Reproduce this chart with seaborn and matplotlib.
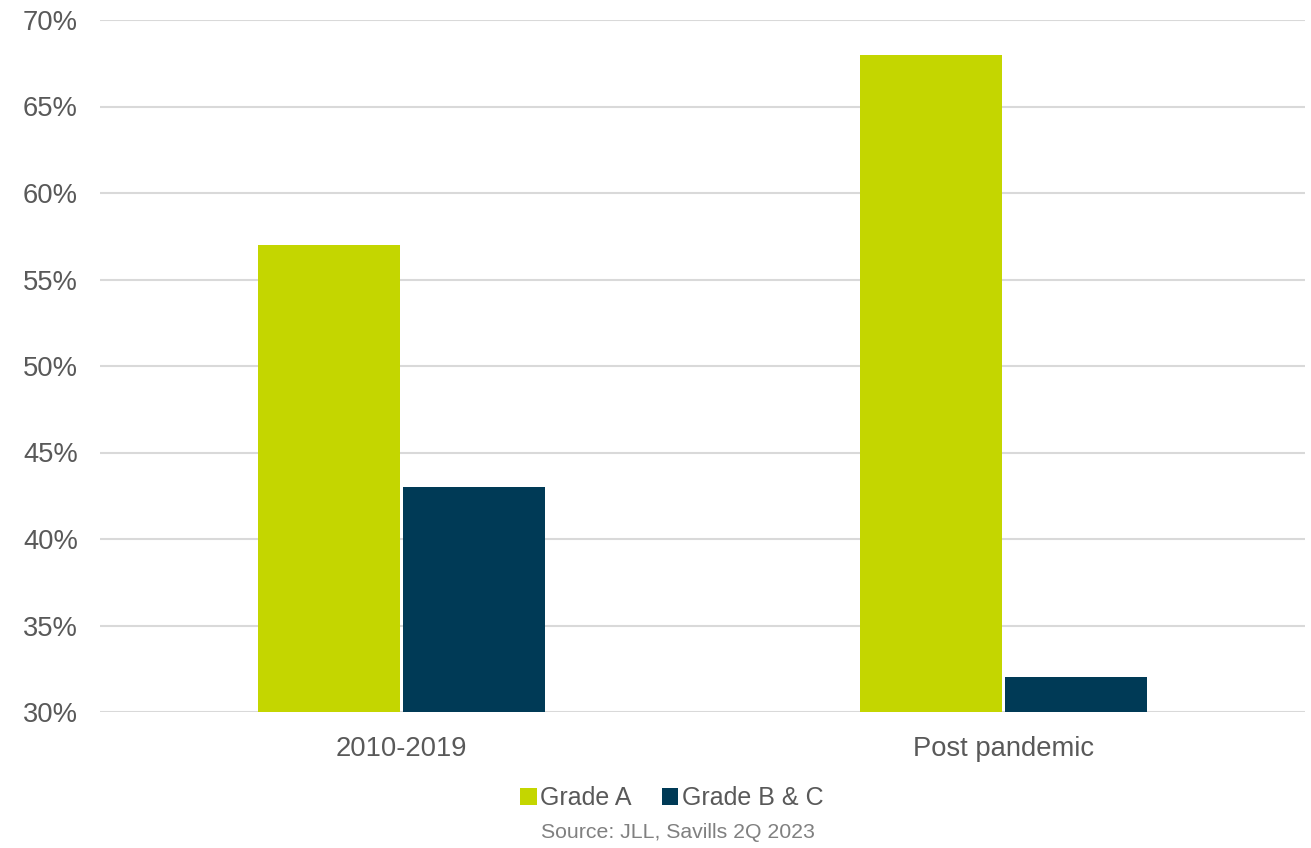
import matplotlib
matplotlib.use("Agg")
import matplotlib.pyplot as plt
import seaborn as sns
import pandas as pd
from matplotlib.ticker import FuncFormatter

categories = ["2010-2019", "Post pandemic"]
grade_a = [57, 68]
grade_bc = [43, 32]
series_names = ["Grade A", "Grade B & C"]
yticks = [30, 35, 40, 45, 50, 55, 60, 65, 70]

df = pd.DataFrame({
    "Period": categories * 2,
    "Share": grade_a + grade_bc,
    "Grade": [series_names[0]] * 2 + [series_names[1]] * 2,
})

sns.set_theme(style="white")
plt.rcParams["font.family"] = ["Liberation Sans", "DejaVu Sans"]

fig = plt.figure(figsize=(13.11, 8.48), dpi=100)
ax = fig.add_axes([100 / 1311, 1 - 712 / 848, 1205 / 1311, 692 / 848])

palette = {"Grade A": "#C4D600", "Grade B & C": "#003A56"}
sns.barplot(data=df, x="Period", y="Share", hue="Grade", palette=palette,
            width=0.481, gap=0.02, ax=ax, saturation=1, legend=True, linewidth=0)

ax.set_ylim(30, 70)
ax.set_yticks(yticks)
ax.yaxis.set_major_formatter(FuncFormatter(lambda v, p: f"{v:.0f}%"))
ax.grid(axis="y", color="#D9D9D9", linewidth=1.5)
ax.set_axisbelow(True)
for s in ax.spines.values():
    s.set_visible(False)
ax.tick_params(axis="both", length=0, labelsize=19.7, colors="#595959")
ax.tick_params(axis="y", pad=16)
ax.tick_params(axis="x", pad=17)
ax.set_xlabel("")
ax.set_ylabel("")

handles, labels = ax.get_legend_handles_labels()
ax.get_legend().remove()
fig.legend(handles, labels, loc="center", bbox_to_anchor=(672 / 1311, 1 - 798 / 848),
           ncol=2, frameon=False, fontsize=18, handlelength=0.65, handleheight=0.65,
           handletextpad=0.15, columnspacing=1.2, labelcolor="#595959")

fig.text(678 / 1311, 1 - 832 / 848, "Source: JLL, Savills 2Q 2023", ha="center", va="center",
         fontsize=15.3, color="#808080")

fig.savefig("out.png", dpi=100)
